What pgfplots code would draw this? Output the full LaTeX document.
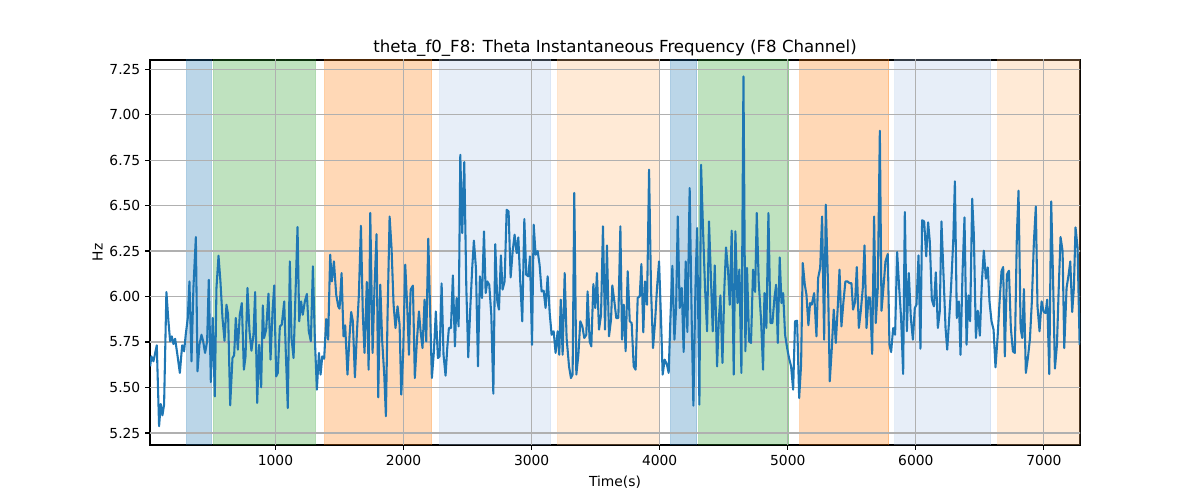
\documentclass[border=0pt]{standalone}
\usepackage{fontspec}
\setmainfont{DejaVu Sans}
\usepackage{pgfplots}
\usepackage{pgfplotstable}
\pgfplotsset{compat=1.18}
\definecolor{C0}{HTML}{1F77B4}
\definecolor{C1}{HTML}{FF7F0E}
\definecolor{C2}{HTML}{2CA02C}
\definecolor{C0l}{HTML}{AEC7E8}
\definecolor{C1l}{HTML}{FFBB78}
\definecolor{gridc}{HTML}{B0B0B0}
\pgfplotstableread{
x y
21 5.616
31 5.671
47 5.644
73 5.732
91 5.287
104 5.409
117 5.347
130 5.406
148 6.025
164 5.864
177 5.754
190 5.781
203 5.739
216 5.768
234 5.680
253 5.580
271 5.732
286 5.699
299 5.790
315 5.882
328 6.083
344 5.644
359 6.047
378 6.327
391 5.589
406 5.735
422 5.790
435 5.754
450 5.690
466 5.754
479 6.092
495 5.530
510 5.882
526 5.451
539 6.047
555 6.224
570 6.083
586 5.882
602 5.757
617 5.955
630 5.900
646 5.402
664 5.662
677 5.677
690 5.882
706 5.708
721 5.900
737 5.964
753 5.598
766 5.671
781 6.047
797 5.809
812 5.702
828 5.790
841 6.025
857 5.415
872 5.735
888 5.501
901 5.951
911 5.772
927 5.818
945 6.016
961 5.653
977 5.922
990 6.061
1005 5.561
1018 5.580
1034 5.836
1049 5.845
1068 5.973
1081 5.680
1096 5.387
1112 6.193
1125 5.772
1141 5.662
1172 6.382
1185 5.864
1200 5.973
1213 5.900
1229 5.973
1245 6.014
1260 5.809
1276 5.754
1292 6.166
1307 5.772
1323 5.488
1339 5.690
1352 5.571
1365 5.671
1380 5.658
1396 5.876
1411 5.763
1427 6.230
1440 6.083
1456 6.193
1474 6.010
1490 5.946
1500 5.933
1516 6.129
1531 5.781
1544 5.842
1562 5.571
1578 5.781
1591 5.915
1604 5.864
1620 5.556
1635 5.790
1651 6.010
1667 6.389
1682 5.900
1695 5.690
1713 6.080
1727 5.598
1740 6.459
1758 5.690
1773 6.047
1789 6.343
1802 5.446
1818 6.065
1833 5.757
1849 5.571
1862 5.342
1875 5.900
1891 6.440
1906 6.267
1922 5.955
1937 5.827
1953 5.946
1969 5.845
1982 5.461
1997 5.690
2013 6.175
2029 5.937
2042 5.680
2055 6.038
2073 6.060
2088 5.552
2104 5.754
2120 5.918
2133 5.809
2148 5.717
2164 5.983
2177 5.754
2193 6.318
2206 5.955
2221 5.552
2237 5.699
2252 5.918
2268 5.662
2281 5.671
2297 6.072
2312 5.680
2328 5.565
2341 5.717
2354 5.827
2370 5.827
2385 6.116
2401 5.726
2414 5.992
2430 5.836
2443 6.779
2458 6.349
2474 6.739
2490 6.047
2505 5.666
2521 5.937
2536 6.157
2549 6.307
2565 6.157
2581 5.616
2596 6.111
2612 5.992
2628 6.358
2641 6.019
2654 6.083
2669 6.065
2685 5.900
2701 5.466
2716 6.288
2732 5.973
2745 5.928
2760 6.226
2773 6.038
2789 6.083
2805 6.477
2820 6.468
2836 6.105
2852 6.250
2867 6.340
2883 6.239
2896 6.325
2911 6.083
2927 5.864
2943 6.426
2958 6.120
2974 6.111
2987 6.221
3003 5.735
3016 6.395
3031 6.230
3047 6.250
3062 6.175
3078 6.028
3094 6.032
3109 5.937
3125 6.111
3141 5.909
3156 5.790
3172 5.809
3187 5.690
3203 5.809
3216 5.680
3227 5.983
3242 5.680
3258 6.129
3273 5.772
3292 5.616
3307 5.552
3320 5.571
3333 6.569
3349 5.571
3365 5.680
3380 5.864
3396 5.836
3411 5.772
3427 5.790
3437 6.028
3453 5.754
3466 5.726
3482 6.069
3497 5.937
3510 6.129
3526 5.818
3542 5.900
3557 6.386
3573 5.818
3588 6.281
3604 5.781
3620 5.873
3630 6.061
3646 5.973
3661 5.882
3677 5.882
3693 6.386
3706 5.763
3719 5.955
3734 5.699
3750 6.139
3766 5.864
3781 5.854
3797 5.616
3812 5.598
3828 5.992
3844 6.001
3857 6.179
3872 5.803
3885 6.083
3901 5.955
3917 6.697
3932 6.047
3948 5.717
3964 5.864
3979 6.047
3995 6.193
4010 5.882
4023 5.571
4039 5.653
4057 5.625
4070 5.580
4083 5.864
4099 6.169
4115 5.763
4128 5.937
4141 6.440
4156 5.937
4172 6.047
4187 5.695
4203 6.193
4216 5.805
4234 6.596
4250 5.864
4263 5.400
4279 6.047
4292 6.376
4310 5.406
4323 6.724
4338 6.376
4354 6.047
4370 5.809
4385 6.413
4401 6.083
4414 5.809
4430 6.171
4448 5.616
4461 5.864
4474 6.006
4490 5.635
4505 6.047
4518 6.270
4534 6.139
4547 5.955
4562 6.362
4578 5.571
4591 6.358
4607 5.964
4622 6.148
4638 5.580
4654 7.210
4669 5.699
4682 6.157
4698 5.754
4713 5.745
4729 6.148
4745 6.025
4758 6.459
4773 6.083
4792 5.864
4807 5.598
4818 6.019
4833 5.827
4849 6.459
4865 5.854
4880 5.854
4896 5.992
4909 6.065
4922 5.745
4937 6.215
4951 5.964
4964 6.019
4979 5.790
4995 5.717
5010 5.662
5026 5.616
5042 5.488
5057 5.864
5073 5.867
5089 5.442
5104 5.625
5117 6.184
5133 6.065
5146 6.010
5161 5.842
5174 5.964
5187 5.955
5206 6.019
5224 5.781
5237 6.102
5253 6.157
5268 6.440
5284 5.763
5297 6.505
5315 6.047
5328 5.534
5344 5.717
5359 5.928
5375 5.745
5391 5.951
5404 6.148
5419 5.836
5435 5.973
5450 6.083
5466 6.083
5482 6.074
5497 6.074
5510 5.928
5526 5.973
5539 6.162
5555 5.827
5570 5.918
5586 6.047
5599 6.281
5615 5.827
5630 5.995
5643 5.992
5659 5.684
5674 6.440
5687 5.854
5703 6.047
5719 6.911
5732 5.922
5747 6.047
5763 6.193
5781 6.234
5794 5.735
5807 5.695
5823 5.827
5838 5.790
5854 6.245
5870 6.047
5885 5.882
5901 5.574
5914 6.464
5930 5.809
5945 6.129
5961 5.882
5977 5.763
5992 5.937
6005 5.955
6021 6.226
6036 5.713
6049 6.419
6065 6.413
6081 6.221
6096 6.408
6109 6.303
6125 5.983
6141 5.946
6156 6.133
6172 5.827
6187 5.918
6200 6.413
6216 6.120
6232 5.827
6245 5.708
6260 5.873
6276 6.065
6292 6.303
6305 6.633
6320 5.882
6336 5.973
6349 5.680
6365 6.139
6380 6.435
6396 5.735
6411 6.006
6424 5.864
6440 6.538
6453 6.340
6469 5.772
6484 5.922
6500 5.785
6516 6.083
6531 6.252
6547 6.098
6562 6.160
6575 5.973
6591 5.864
6607 5.818
6622 5.611
6638 5.772
6654 5.973
6669 6.139
6682 6.162
6695 5.671
6711 6.120
6727 6.142
6742 5.827
6758 5.699
6773 5.690
6789 6.340
6802 6.582
6818 5.827
6831 5.772
6844 6.041
6859 5.580
6875 5.662
6891 5.768
6906 5.973
6922 6.303
6937 6.495
6950 5.946
6966 5.809
6982 5.973
6997 5.918
7013 5.909
7026 5.983
7042 5.574
7057 6.523
7073 6.047
7086 5.604
7102 5.735
7115 6.028
7130 6.327
7146 6.250
7159 5.717
7177 6.047
7193 6.120
7206 6.193
7221 5.915
7234 6.047
7247 6.380
7263 6.267
7279 5.735
}\freqdata
\begin{document}
\begin{tikzpicture}
\path[use as bounding box] (0,0) rectangle (12in,5in);
\begin{axis}[
  at={(1.5in,0.55in)}, anchor=south west,
  width=9.3in, height=3.85in, scale only axis,
  xmin=20, xmax=7282, ymin=5.184, ymax=7.30,
  xtick={1000,2000,3000,4000,5000,6000,7000},
  ytick={5.25,5.5,5.75,6,6.25,6.5,6.75,7,7.25},
  /pgf/number format/assume math mode=true,
  xticklabel style={/pgf/number format/1000 sep={}},
  yticklabel style={/pgf/number format/.cd,fixed,fixed zerofill,precision=2},
  tick label style={font=\fontsize{10}{12}\selectfont},
  label style={font=\fontsize{10}{12}\selectfont},
  tick align=outside, tick pos=left,
  major tick length=3.5pt,
  every tick/.style={black, line width=0.8pt},
  axis line style={black, line width=0.8pt},
  xlabel={Time(s)}, ylabel={Hz},
  title={theta\_f0\_F8: Theta Instantaneous Frequency (F8 Channel)},
  title style={font=\fontsize{12}{14}\selectfont, yshift=-7pt},
  xlabel style={yshift=-1pt},
  ylabel style={yshift=-2pt},
  span/.style={fill=#1, fill opacity=0.3, draw=#1, draw opacity=0.3, line width=0.8pt},
  gl/.style={gridc, line width=0.8pt, forget plot},
]
\addplot[span=C0] coordinates {(305,5) (500,5) (500,8) (305,8) (305,5)};
\addplot[span=C2] coordinates {(516,5) (1312,5) (1312,8) (516,8) (516,5)};
\addplot[span=C1] coordinates {(1383,5) (2219,5) (2219,8) (1383,8) (1383,5)};
\addplot[span=C0l] coordinates {(2281,5) (3148,5) (3148,8) (2281,8) (2281,5)};
\addplot[span=C1l] coordinates {(3203,5) (4000,5) (4000,8) (3203,8) (3203,5)};
\addplot[span=C0] coordinates {(4086,5) (4289,5) (4289,8) (4086,8) (4086,5)};
\addplot[span=C2] coordinates {(4305,5) (5008,5) (5008,8) (4305,8) (4305,5)};
\addplot[span=C1] coordinates {(5094,5) (5789,5) (5789,8) (5094,8) (5094,5)};
\addplot[span=C0l] coordinates {(5836,5) (6586,5) (6586,8) (5836,8) (5836,5)};
\addplot[span=C1l] coordinates {(6641,5) (7400,5) (7400,8) (6641,8) (6641,5)};
\addplot[gl] coordinates {(1000,5) (1000,8)};
\addplot[gl] coordinates {(2000,5) (2000,8)};
\addplot[gl] coordinates {(3000,5) (3000,8)};
\addplot[gl] coordinates {(4000,5) (4000,8)};
\addplot[gl] coordinates {(5000,5) (5000,8)};
\addplot[gl] coordinates {(6000,5) (6000,8)};
\addplot[gl] coordinates {(7000,5) (7000,8)};
\addplot[gl] coordinates {(0,5.25) (7400,5.25)};
\addplot[gl] coordinates {(0,5.5) (7400,5.5)};
\addplot[gl] coordinates {(0,5.75) (7400,5.75)};
\addplot[gl] coordinates {(0,6) (7400,6)};
\addplot[gl] coordinates {(0,6.25) (7400,6.25)};
\addplot[gl] coordinates {(0,6.5) (7400,6.5)};
\addplot[gl] coordinates {(0,6.75) (7400,6.75)};
\addplot[gl] coordinates {(0,7) (7400,7)};
\addplot[gl] coordinates {(0,7.25) (7400,7.25)};
\addplot[C0, line width=1.5pt, no marks, line join=round] table[x=x,y=y] {\freqdata};
\end{axis}
\end{tikzpicture}
\end{document}
